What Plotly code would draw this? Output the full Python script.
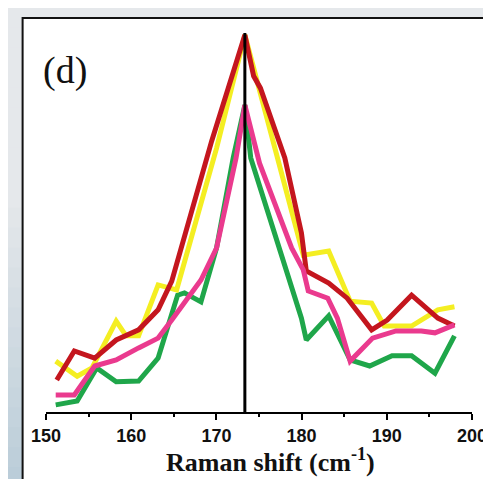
import plotly.graph_objects as go

# ---- data ----
red_x = [151.26, 153.32, 155.72, 158.24, 160.87, 163.16, 164.76, 169.45, 173.34, 174.37, 175.17,
         178.03, 179.98, 180.55, 183.18, 185.35, 188.22, 190.05, 192.91, 195.99, 197.94]
red_y = [8.5, 16.2, 14.3, 19.1, 21.8, 27.1, 34.7, 71.9, 100.0, 89.1, 85.9,
         67.4, 47.5, 37.4, 34.2, 30.2, 21.8, 24.4, 31.0, 24.9, 22.8]

yellow_x = [151.14, 153.66, 155.4, 158.24, 159.4, 160.87, 163.16, 165.33, 170.02, 173.34,
            180.2, 183.18, 185.7, 188.22, 189.7, 192.91, 195.99, 197.94]
yellow_y = [13.5, 9.5, 11.7, 24.1, 20.2, 20.2, 33.7, 32.4, 70.0, 100.0,
            41.6, 42.7, 29.4, 28.9, 22.8, 22.8, 27.1, 27.9]

pink_x = [151.14, 153.32, 155.72, 158.24, 160.87, 163.16, 164.76, 168.19, 170.02, 172.31, 173.34,
          175.06, 178.83, 180.2, 180.78, 183.07, 184.2, 185.7, 188.33, 191.08, 194.05, 195.65, 197.94]
pink_y = [4.5, 4.5, 12.2, 13.8, 17.0, 19.6, 24.4, 35.0, 43.5, 67.4, 81.4,
          66.0, 43.5, 37.7, 32.1, 30.2, 24.9, 13.5, 19.6, 21.5, 21.5, 21.0, 23.1]

green_x = [151.14, 153.66, 155.95, 158.24, 160.87, 163.16, 165.45, 166.25, 168.19, 170.02, 171.97, 173.34,
           174.03, 179.98, 180.55, 183.18, 185.7, 187.99, 190.62, 192.91, 195.65, 197.94]
green_y = [1.9, 2.9, 11.7, 8.0, 8.2, 14.3, 31.0, 31.6, 29.2, 43.5, 67.4, 81.4,
           67.4, 24.9, 19.1, 25.5, 13.8, 12.2, 14.9, 14.9, 10.3, 20.2]

peak_shift = 173.34
peak_top = 100.5

x_ticks = [150, 160, 170, 180, 190, 200]

# ---- figure ----
W, H = 491, 479
L, R, T, B = 38, 16, 20, 75
plot_w = W - L - R
plot_h = H - T - B


def px2paper_x(px):
    return (px - L) / plot_w


def py2paper_y(py):
    return (H - B - py) / plot_h


fig = go.Figure()

series = [
    (green_x, green_y, "#1fa64a"),
    (yellow_x, yellow_y, "#f4ee22"),
    (red_x, red_y, "#c4161e"),
    (pink_x, pink_y, "#ea3a8e"),
]
for xs, ys, col in series:
    fig.add_trace(go.Scatter(x=xs, y=ys, mode="lines",
                             line=dict(color=col, width=5),
                             showlegend=False, hoverinfo="skip"))

fig.add_trace(go.Scatter(x=[peak_shift, peak_shift], y=[0, peak_top], mode="lines",
                         line=dict(color="black", width=3),
                         showlegend=False, hoverinfo="skip"))

shapes = []
# background gradient on the left strip / top band
top_col = (229, 232, 235)
bot_col = (184, 204, 216)
n = 24
for i in range(n):
    py0 = i * H / n
    py1 = (i + 1) * H / n
    t = max(0.0, (py0 - 180) / (H - 180))
    c = tuple(int(top_col[k] + (bot_col[k] - top_col[k]) * t) for k in range(3))
    shapes.append(dict(type="rect", xref="paper", yref="paper", layer="below",
                       x0=px2paper_x(-2), x1=px2paper_x(16),
                       y0=py2paper_y(py1 + 1), y1=py2paper_y(py0),
                       fillcolor="rgb(%d,%d,%d)" % c, line=dict(width=0)))
# white panel with black border
shapes.append(dict(type="rect", xref="paper", yref="paper", layer="below",
                   x0=px2paper_x(14), x1=px2paper_x(W + 10),
                   y0=py2paper_y(H + 10), y1=py2paper_y(10),
                   fillcolor="white", line=dict(color="#111111", width=2)))

fig.update_layout(
    width=W, height=H,
    margin=dict(l=L, r=R, t=T, b=B),
    paper_bgcolor="rgb(229,232,235)",
    plot_bgcolor="rgba(0,0,0,0)",
    shapes=shapes,
    xaxis=dict(range=[150, 200], tickvals=x_ticks, ticktext=[str(v) for v in x_ticks],
               showline=True, linecolor="black", linewidth=2,
               ticks="outside", ticklen=6, tickwidth=2, tickcolor="black",
               minor=dict(ticks="outside", ticklen=3, tickwidth=2, dtick=5, tick0=150, tickcolor="black"),
               showgrid=False, zeroline=False,
               tickfont=dict(family="Liberation Sans", size=18, color="#111111", weight="bold")),
    yaxis=dict(range=[0, plot_h / 3.77], visible=False),
    annotations=[
        dict(text="Raman shift (cm<sup>-1</sup>)", xref="paper", yref="paper",
             x=px2paper_x(268), y=py2paper_y(452), showarrow=False,
             xanchor="center", yanchor="middle",
             font=dict(family="Liberation Serif", size=26, color="#111111", weight="bold")),
        dict(text="(d)", xref="paper", yref="paper",
             x=px2paper_x(58), y=py2paper_y(62), showarrow=False,
             xanchor="center", yanchor="middle",
             font=dict(family="Liberation Serif", size=38, color="#111111")),
    ],
)

fig.write_html("out.html")
